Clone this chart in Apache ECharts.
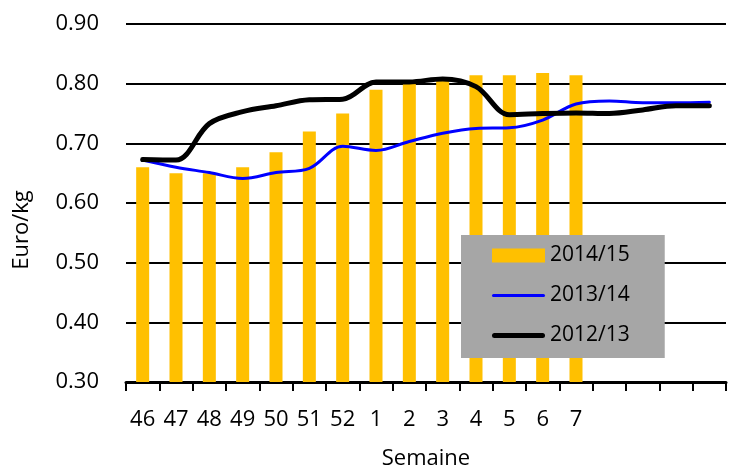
<!DOCTYPE html>
<html lang="fr">
<head>
    <meta charset="UTF-8">
    <title>Prix Euro/kg par semaine</title>
    <style>
        html, body { margin: 0; padding: 0; background: #fff; }
    </style>
</head>
<body>
<script src="https://cdn.jsdelivr.net/npm/echarts@6/dist/echarts.min.js"></script>

<div id="chart" style="width: 737px;height:468px;"></div>

<script type="text/javascript">
    // semaines (les 4 dernières sans étiquette)
    var semaines = ['46', '47', '48', '49', '50', '51', '52', '1', '2', '3', '4', '5', '6', '7', '', '', '', ''];

    var saison1415 = [0.66, 0.65, 0.65, 0.66, 0.685, 0.72, 0.75, 0.79, 0.80, 0.81, 0.814, 0.814, 0.818, 0.814, null, null, null, null];
    var saison1314 = [0.672, 0.660, 0.651, 0.641, 0.651, 0.658, 0.695, 0.688, 0.703, 0.717, 0.725, 0.726, 0.739, 0.766, 0.771, 0.768, 0.768, 0.769];
    var saison1213 = [0.673, 0.672, 0.733, 0.753, 0.763, 0.773, 0.774, 0.803, 0.803, 0.808, 0.795, 0.748, 0.750, 0.751, 0.750, 0.756, 0.763, 0.763];

    var police = 'Open Sans';

    // icônes de légende : trait fin / trait épais dans une boîte 53x14
    var iconBleu = 'path://M0,0M53,14M1.5,5.5h50a1.5,1.5 0 0 1 0,3h-50a1.5,1.5 0 0 1 0,-3z';
    var iconNoir = 'path://M0,0M53,14M2.5,4.5h48a2.5,2.5 0 0 1 0,5h-48a2.5,2.5 0 0 1 0,-5z';

    var myChart = echarts.init(document.getElementById('chart'));

    myChart.setOption({
        animation: false,
        textStyle: { fontFamily: police },
        grid: { left: 126, right: 11, top: 24, bottom: 86, outerBoundsMode: 'none', containLabel: false },
        legend: {
            orient: 'vertical',
            left: 461,
            top: 235,
            backgroundColor: '#a6a6a6',
            padding: [10, 35, 12, 31],
            itemWidth: 53,
            itemHeight: 14,
            itemGap: 19,
            itemStyle: { borderWidth: 0 },
            textStyle: { fontFamily: police, fontSize: 21, color: '#000' },
            data: [
                { name: '2014/15', icon: 'rect' },
                { name: '2013/14', icon: iconBleu },
                { name: '2012/13', icon: iconNoir }
            ]
        },
        xAxis: {
            type: 'category',
            data: semaines,
            name: 'Semaine',
            nameLocation: 'middle',
            nameGap: 66,
            nameTextStyle: { fontFamily: police, fontSize: 22, color: '#000' },
            axisLine: { show: true, onZero: false, lineStyle: { color: '#000', width: 3 } },
            axisTick: { show: true, alignWithLabel: false, length: 9, lineStyle: { color: '#000', width: 2 }, interval: 0 },
            axisLabel: { interval: 0, margin: 27, fontFamily: police, fontSize: 22, color: '#000' }
        },
        yAxis: {
            type: 'value',
            min: 0.3,
            max: 0.9,
            interval: 0.1,
            axisLine: { show: false },
            axisTick: { show: false },
            axisLabel: {
                margin: 27,
                fontFamily: police,
                fontSize: 22,
                color: '#000',
                formatter: function (v) { return v.toFixed(2); }
            },
            splitLine: { lineStyle: { color: '#000', width: 2 } }
        },
        graphic: [{
            type: 'text',
            x: 22,
            y: 230,
            rotation: Math.PI / 2,
            style: {
                text: 'Euro/kg',
                fontFamily: police,
                fontSize: 22,
                fill: '#000',
                align: 'center',
                verticalAlign: 'middle'
            }
        }],
        series: [
            {
                name: '2014/15',
                type: 'bar',
                barWidth: 13,
                itemStyle: { color: '#ffc000' },
                data: saison1415
            },
            {
                name: '2013/14',
                type: 'line',
                smooth: 0.35,
                symbol: 'none',
                itemStyle: { color: '#0000ff' },
                lineStyle: { color: '#0000ff', width: 3, cap: 'round' },
                data: saison1314
            },
            {
                name: '2012/13',
                type: 'line',
                smooth: 0.35,
                symbol: 'none',
                itemStyle: { color: '#000' },
                lineStyle: { color: '#000', width: 5, cap: 'round' },
                data: saison1213
            }
        ]
    });
</script>
</body>
</html>
